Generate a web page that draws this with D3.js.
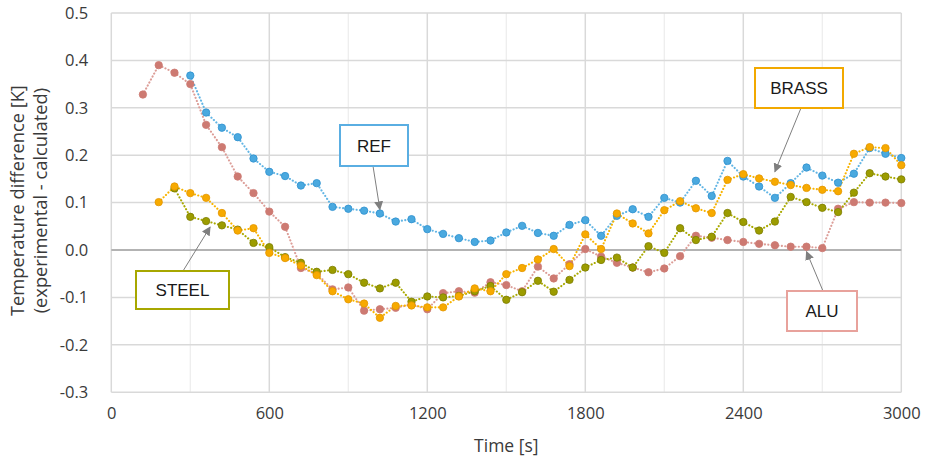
<!DOCTYPE html>
<html>
<head>
<meta charset="utf-8">
<script src="https://cdn.jsdelivr.net/npm/d3@7/dist/d3.min.js"></script>
<style>
  body { margin: 0; background: #fff; }
  svg { display: block; }
</style>
</head>
<body>
<svg id="chart" width="926" height="463"></svg>
<script>
// Sampling times [s], one reading per minute
const times = [
  120, 180, 240, 300, 360, 420, 480, 540, 600, 660, 720,
  780, 840, 900, 960, 1020, 1080, 1140, 1200, 1260, 1320, 1380,
  1440, 1500, 1560, 1620, 1680, 1740, 1800, 1860, 1920, 1980, 2040,
  2100, 2160, 2220, 2280, 2340, 2400, 2460, 2520, 2580, 2640, 2700,
  2760, 2820, 2880, 2940, 3000
];

// Temperature difference (experimental - calculated) [K]
const refValues = [
  null, null, null, 0.368, 0.290, 0.258, 0.238, 0.193, 0.165, 0.156, 0.136,
  0.141, 0.091, 0.087, 0.083, 0.077, 0.060, 0.065, 0.044, 0.034, 0.025, 0.017,
  0.020, 0.037, 0.051, 0.036, 0.030, 0.053, 0.063, 0.030, 0.072, 0.086, 0.070,
  0.110, 0.100, 0.146, 0.114, 0.188, 0.155, 0.134, 0.110, 0.141, 0.174, 0.157,
  0.142, 0.161, 0.215, 0.203, 0.194
];
const aluValues = [
  0.328, 0.390, 0.374, 0.350, 0.264, 0.217, 0.155, 0.120, 0.081, 0.049, -0.038,
  -0.050, -0.083, -0.079, -0.128, -0.125, -0.122, -0.115, -0.125, -0.091, -0.087, -0.090,
  -0.068, -0.074, -0.087, -0.035, -0.060, -0.030, 0.002, -0.014, -0.027, -0.037, -0.047,
  -0.039, -0.013, 0.030, 0.026, 0.021, 0.017, 0.013, 0.010, 0.007, 0.007, 0.004,
  0.087, 0.101, 0.100, 0.100, 0.099
];
const steelValues = [
  null, null, 0.130, 0.070, 0.061, 0.052, 0.043, 0.015, 0.006, -0.015, -0.027,
  -0.046, -0.042, -0.051, -0.069, -0.081, -0.069, -0.109, -0.098, -0.100, -0.097, -0.087,
  -0.076, -0.105, -0.089, -0.065, -0.088, -0.063, -0.037, -0.021, -0.016, -0.037, 0.008,
  -0.006, 0.046, 0.021, 0.028, 0.078, 0.059, 0.041, 0.060, 0.112, 0.101, 0.089,
  0.080, 0.121, 0.162, 0.155, 0.149
];
const brassValues = [
  null, 0.101, 0.134, 0.120, 0.110, 0.078, 0.041, 0.046, -0.006, -0.017, -0.033,
  -0.053, -0.087, -0.104, -0.113, -0.143, -0.118, -0.117, -0.121, -0.121, -0.098, -0.081,
  -0.087, -0.051, -0.038, -0.020, 0.002, -0.034, 0.033, 0.002, 0.077, 0.056, 0.035,
  0.084, 0.103, 0.088, 0.078, 0.148, 0.160, 0.151, 0.144, 0.137, 0.131, 0.127,
  0.124, 0.203, 0.217, 0.215, 0.179
];

const xTicks = [0, 600, 1200, 1800, 2400, 3000];
const xMinorTicks = [300, 900, 1500, 2100, 2700];
const yTicks = [-0.3, -0.2, -0.1, 0.0, 0.1, 0.2, 0.3, 0.4, 0.5];

const seriesNames = ["REF", "ALU", "STEEL", "BRASS"];
const seriesData = [refValues, aluValues, steelValues, brassValues];

// Marker and line styles per series
const styles = {
  REF:   { fill: "#4aa9df", stroke: "#2f90cf", line: "#62b5e4" },
  ALU:   { fill: "#cd7a72", stroke: "#cd7a72", line: "#dc9d97" },
  STEEL: { fill: "#9c9c00", stroke: "#7d7d00", line: "#a9a900" },
  BRASS: { fill: "#f7aa00", stroke: "#e39500", line: "#f8b400" }
};

const svg = d3.select("#chart");
const x = d3.scaleLinear().domain([0, 3000]).range([111.3, 901.3]);
const y = d3.scaleLinear().domain([-0.3, 0.5]).range([392.2, 13]);

const font = "'Open Sans', 'Noto Sans', sans-serif";
const textColor = "#3a3a3a";

// Gridlines
const grid = svg.append("g");
grid.selectAll("line.minor").data(xMinorTicks).join("line")
  .attr("x1", d => x(d)).attr("x2", d => x(d))
  .attr("y1", y(0.5)).attr("y2", y(-0.3))
  .attr("stroke", "#eeeeee").attr("stroke-width", 1.3);
grid.selectAll("line.vmajor").data(xTicks).join("line")
  .attr("x1", d => x(d)).attr("x2", d => x(d))
  .attr("y1", y(0.5)).attr("y2", y(-0.3))
  .attr("stroke", "#d9d9d9").attr("stroke-width", 1.5);
grid.selectAll("line.h").data(yTicks.filter(d => d !== 0)).join("line")
  .attr("x1", x(0)).attr("x2", x(3000))
  .attr("y1", d => y(d)).attr("y2", d => y(d))
  .attr("stroke", "#d9d9d9").attr("stroke-width", 1.5);
grid.append("line")
  .attr("x1", x(0)).attr("x2", x(3000))
  .attr("y1", y(0)).attr("y2", y(0))
  .attr("stroke", "#b3b3b3").attr("stroke-width", 2.2);

// Axes (labels only); plain hyphen for negative numbers
const fmtY = v => d3.format(".1f")(v).replace("\u2212", "-");
const xAxis = d3.axisBottom(x).tickValues(xTicks).tickSize(0).tickPadding(15).tickFormat(d3.format("d"));
const gx = svg.append("g").attr("transform", `translate(0,${y(-0.3)})`).call(xAxis);
gx.select(".domain").remove();
gx.selectAll("text").attr("font-family", font).attr("font-size", 16.5).attr("fill", textColor);

const yAxis = d3.axisLeft(y).tickValues(yTicks).tickSize(0).tickPadding(23).tickFormat(fmtY);
const gy = svg.append("g").attr("transform", `translate(${x(0)},0)`).call(yAxis);
gy.select(".domain").remove();
gy.selectAll("text").attr("font-family", font).attr("font-size", 16.5).attr("fill", textColor);

// Axis titles
svg.append("text")
  .attr("x", (x(0) + x(3000)) / 2).attr("y", 452)
  .attr("text-anchor", "middle")
  .attr("font-family", font).attr("font-size", 17.5).attr("fill", textColor)
  .text("Time [s]");
const yTitle = svg.append("text")
  .attr("transform", `translate(24,${(y(0.5) + y(-0.3)) / 2 - 2}) rotate(-90)`)
  .attr("text-anchor", "middle")
  .attr("font-family", font).attr("font-size", 18.3).attr("fill", textColor);
yTitle.append("tspan").attr("x", 0).attr("dy", 0).text("Temperature difference [K]");
yTitle.append("tspan").attr("x", 0).attr("dy", 23).text("(experimental - calculated)");

// Series: dotted connecting lines, then markers
const line = d3.line()
  .defined(d => d.v !== null)
  .x(d => x(d.t)).y(d => y(d.v));

seriesNames.forEach((name, i) => {
  const pts = times.map((t, j) => ({ t, v: seriesData[i][j] }));
  const st = styles[name];
  svg.append("path")
    .datum(pts)
    .attr("d", line)
    .attr("fill", "none")
    .attr("stroke", st.line)
    .attr("stroke-width", 2.1)
    .attr("stroke-linecap", "round")
    .attr("stroke-dasharray", "0.1,3.3");
});
seriesNames.forEach((name, i) => {
  const pts = times.map((t, j) => ({ t, v: seriesData[i][j] })).filter(d => d.v !== null);
  const st = styles[name];
  svg.append("g").selectAll("circle").data(pts).join("circle")
    .attr("cx", d => x(d.t)).attr("cy", d => y(d.v))
    .attr("r", 3.7)
    .attr("fill", st.fill)
    .attr("stroke", st.stroke)
    .attr("stroke-width", 0.8);
});

// Callout labels with arrows pointing at a series point
const callouts = [
  { name: "REF",   color: "#5aaee2", box: [340, 125, 68, 41],  from: [373, 166], at: 1020, dx: 0,  dy: -4 },
  { name: "BRASS", color: "#f2a900", box: [755, 68, 88, 40],   from: [801, 108], at: 2520, dx: 0,  dy: -10 },
  { name: "STEEL", color: "#a7a700", box: [136, 271, 93, 38],  from: [183, 271], at: 360,  dx: 4,  dy: 6 },
  { name: "ALU",   color: "#e8a29c", box: [787, 291, 70, 40],  from: [823, 291], at: 2640, dx: 0,  dy: 5 }
];
const defs = svg.append("defs");
defs.append("marker")
  .attr("id", "arrowhead")
  .attr("viewBox", "0 0 10 10")
  .attr("refX", 9).attr("refY", 5)
  .attr("markerWidth", 9).attr("markerHeight", 9)
  .attr("markerUnits", "userSpaceOnUse")
  .attr("orient", "auto")
  .append("path").attr("d", "M0,0 L10,5 L0,10 Z").attr("fill", "#7f7f7f");

const seriesByName = { REF: refValues, ALU: aluValues, STEEL: steelValues, BRASS: brassValues };
callouts.forEach(c => {
  const idx = times.indexOf(c.at);
  const tx = x(c.at) + c.dx;
  const ty = y(seriesByName[c.name][idx]) + c.dy;
  svg.append("line")
    .attr("x1", c.from[0]).attr("y1", c.from[1])
    .attr("x2", tx).attr("y2", ty)
    .attr("stroke", "#7f7f7f").attr("stroke-width", 1)
    .attr("marker-end", "url(#arrowhead)");
  svg.append("rect")
    .attr("x", c.box[0]).attr("y", c.box[1])
    .attr("width", c.box[2]).attr("height", c.box[3])
    .attr("fill", "#fff").attr("stroke", c.color).attr("stroke-width", 2);
  svg.append("text")
    .attr("x", c.box[0] + c.box[2] / 2).attr("y", c.box[1] + c.box[3] / 2 + 6)
    .attr("text-anchor", "middle")
    .attr("font-family", "'Liberation Sans', Arial, sans-serif")
    .attr("font-size", 17).attr("fill", "#1a1a1a")
    .text(c.name);
});
</script>
</body>
</html>
